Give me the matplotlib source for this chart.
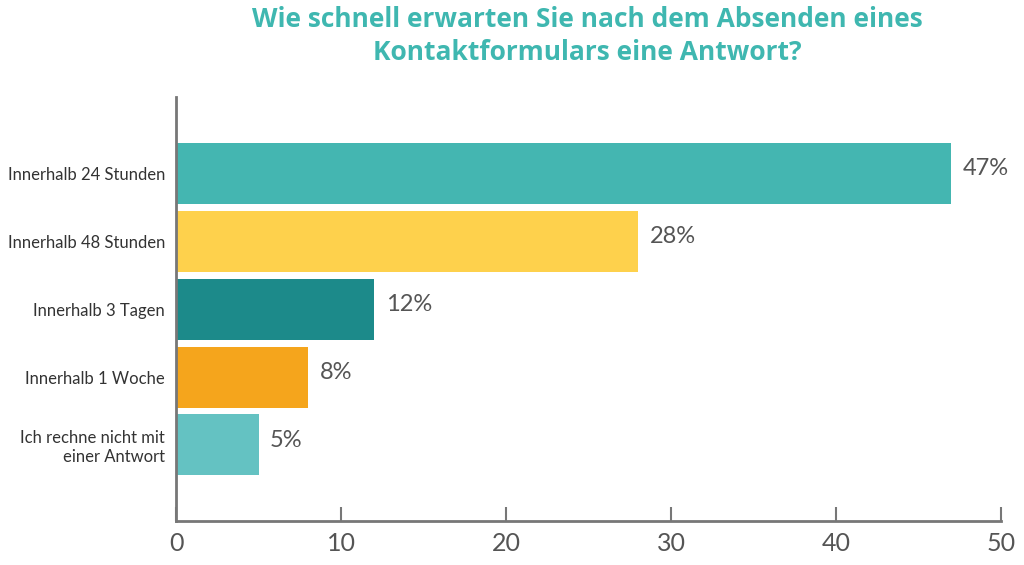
import numpy as np
import matplotlib.pyplot as plt

# Data
categories = ["Innerhalb 24 Stunden", "Innerhalb 48 Stunden", "Innerhalb 3 Tagen",
              "Innerhalb 1 Woche", "Ich rechne nicht mit\neiner Antwort"]
values = [47, 28, 12, 8, 5]
colors = ["#44B6B1", "#FED14C", "#1C8A8A", "#F5A51C", "#64C2C2"]
xticks = [0, 10, 20, 30, 40, 50]

plt.rcParams['font.family'] = ['Lato', 'DejaVu Sans']

fig = plt.figure(figsize=(10.24, 5.65), dpi=100)
ax = fig.add_axes([0.1719, 0.0779, 0.8056, 0.7504])

y = np.arange(len(categories))
ax.barh(y, values, height=0.9, color=colors)

for yi, v in zip(y, values):
    ax.text(v + 0.7, yi - 0.07, f"{v}%", va="center", ha="left",
            fontsize=17, color="#555555")

ax.set_ylim(len(categories) - 1 + 1.12, -1.125)
ax.set_xlim(0, 50)
ax.set_yticks(y)
ax.set_yticklabels(categories, fontsize=12, color="#333333")
ax.tick_params(axis="y", length=0, pad=8)
ax.set_xticks(xticks)
ax.tick_params(axis="x", direction="in", length=10, width=1.5, color="#777777",
               labelsize=18, labelcolor="#555555", pad=8)

for s in ["top", "right"]:
    ax.spines[s].set_visible(False)
for s in ["left", "bottom"]:
    ax.spines[s].set_color("#777777")
    ax.spines[s].set_linewidth(2)

fig.text(0.574, 0.99, "Wie schnell erwarten Sie nach dem Absenden eines\nKontaktformulars eine Antwort?",
         ha="center", va="top", fontsize=19, fontweight="bold", color="#3FB7B0",
         family=['Open Sans', 'DejaVu Sans'], linespacing=1.3)

fig.savefig("out.png", dpi=100)
